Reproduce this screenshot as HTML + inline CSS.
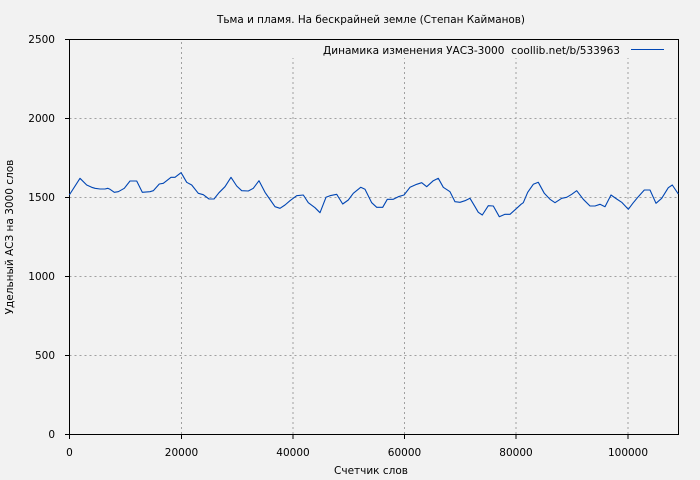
<!DOCTYPE html>
<html><head><meta charset="utf-8"><style>
html,body{margin:0;padding:0;background:#f2f2f2;}
svg{display:block;}
text{font-family:"DejaVu Sans","Liberation Sans",sans-serif;font-size:10.5px;fill:#000;}
</style></head><body>
<svg width="700" height="480" viewBox="0 0 700 480" xmlns="http://www.w3.org/2000/svg">
<rect width="700" height="480" fill="#f2f2f2"/>
<g stroke="#a0a0a0" stroke-width="1" stroke-dasharray="2,3" fill="none">
<line x1="181.5" y1="434" x2="181.5" y2="39.5"/>
<line x1="293" y1="434" x2="293" y2="58"/>
<line x1="404.5" y1="434" x2="404.5" y2="58"/>
<line x1="516" y1="434" x2="516" y2="58"/>
<line x1="628" y1="434" x2="628" y2="58"/>
<line x1="69.5" y1="355.5" x2="678.5" y2="355.5"/>
<line x1="69.5" y1="276.5" x2="678.5" y2="276.5"/>
<line x1="69.5" y1="197.5" x2="678.5" y2="197.5"/>
<line x1="69.5" y1="118.5" x2="678.5" y2="118.5"/>
</g>
<g stroke="#000" stroke-width="1" fill="none">
<rect x="69.5" y="39.5" width="609" height="395"/>
<line x1="65" y1="434.5" x2="69.5" y2="434.5"/>
<line x1="65" y1="355.5" x2="69.5" y2="355.5"/>
<line x1="65" y1="276.5" x2="69.5" y2="276.5"/>
<line x1="65" y1="197.5" x2="69.5" y2="197.5"/>
<line x1="65" y1="118.5" x2="69.5" y2="118.5"/>
<line x1="65" y1="39.5" x2="69.5" y2="39.5"/>
<line x1="69.5" y1="434.5" x2="69.5" y2="439"/>
<line x1="181.5" y1="434.5" x2="181.5" y2="439"/>
<line x1="293" y1="434.5" x2="293" y2="439"/>
<line x1="404.5" y1="434.5" x2="404.5" y2="439"/>
<line x1="516" y1="434.5" x2="516" y2="439"/>
<line x1="628" y1="434.5" x2="628" y2="439"/>
</g>
<g text-anchor="end">
<text x="55" y="438">0</text>
<text x="55" y="359">500</text>
<text x="55" y="280">1000</text>
<text x="55" y="201">1500</text>
<text x="55" y="122">2000</text>
<text x="55" y="43">2500</text>
</g>
<g text-anchor="middle">
<text x="69.5" y="456">0</text>
<text x="181.5" y="456">20000</text>
<text x="293" y="456">40000</text>
<text x="404.5" y="456">60000</text>
<text x="516" y="456">80000</text>
<text x="628" y="456">100000</text>
<text x="371" y="474">Счетчик слов</text>
<text x="371" y="23" textLength="308" lengthAdjust="spacingAndGlyphs">Тьма и пламя. На бескрайней земле (Степан Кайманов)</text>
<text transform="translate(13,237) rotate(-90)">Удельный АСЗ на 3000 слов</text>
</g>
<text x="620" y="54" text-anchor="end" textLength="297" lengthAdjust="spacingAndGlyphs">Динамика изменения УАСЗ-3000&#160; coollib.net/b/533963</text>
<line x1="631" y1="49.5" x2="664" y2="49.5" stroke="#0046b4" stroke-width="1.1"/>
<polyline fill="none" stroke="#0046b4" stroke-width="1.1" stroke-linejoin="round" points="
69.3,195 80,178.3 86.7,185 91.7,187.3 95,188.3 100,189 105,189 107.7,188.3 110,189.3 114.3,192.3 118.3,191.7 124.3,188.3 130,181 136.7,181 142.3,192.3 150,191.7 153.3,190.7 159.3,184 163.3,183.3 166.7,180.7 171,177.3 175,177.3 181,172.7 182.3,174.7 186.7,182.3 191.7,185 198.3,193.3 203.3,194.7 209,199 214,199 219,192.7 225,186.7 231,177.3 236.7,186 241.7,190.7 248.3,191 253.3,188.3 259,180.7 265,192.3 270,199.5 275,206.7 280,208.3 285,205 290,200.7 296.7,195.7 303.3,195 308.3,202.7 315,207.7 320,212.7 326,197.3 330,195.7 336.7,194.3 342.7,204 348.3,200 353.3,193.3 360.7,187.3 365,189.3 371.7,202.7 376.7,207.3 382.7,207.3 387.3,199.3 393.3,199.3 398.3,196.7 404,195 410,187.3 416.7,184.3 421.7,182.7 426.7,186.7 433.3,180.7 438.3,178.3 443.3,187.3 450,191.7 455,201.7 460,202.3 465,200.7 470,198.3 475,206.7 478.3,212.3 482.3,215 488.3,205.7 493.3,206 499.3,216.7 505,214.3 510,214.3 516.7,208.3 521,204.3 523.3,202.7 527.7,192.3 533.3,184.3 538.3,182.3 544.3,193.3 550,199.3 555,202.7 561.7,198.3 566.7,197.3 571.7,194.3 576.7,190.7 583.3,199.3 590,206 595,206 600,204.3 605,206.7 611,195 616.7,199 621.7,202.3 628.3,209.3 633.3,202.7 638.3,196.7 644.3,190 650,190 656,203.3 661.7,198.3 668.3,187.7 672.3,185 678.3,194"/>
</svg>
</body></html>
